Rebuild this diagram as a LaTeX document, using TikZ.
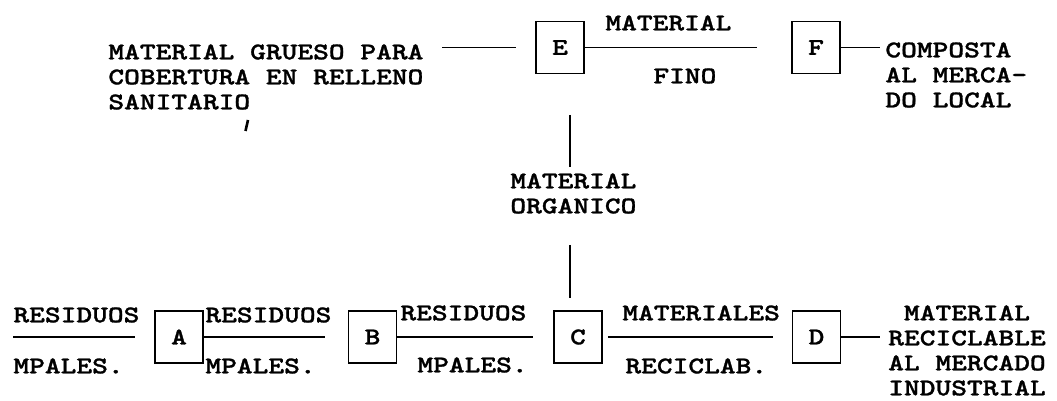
\documentclass[tikz,border=0pt]{standalone}
\usepackage{fontspec}
\newfontfamily\typewfont{lmmonolt10-bold.otf}[FakeStretch=1.25,FakeBold=1.2]
\usetikzlibrary{positioning}
\tikzset{
  box/.style={draw,line width=0.9pt,minimum width=24pt,minimum height=26pt,inner sep=0pt},
  link/.style={line width=0.9pt},
  lbl/.style={inner sep=0pt,anchor=north west,align=left},
  lblc/.style={inner sep=0pt,anchor=north,align=center},
}
\begin{document}
\begin{tikzpicture}[x=0.5pt,y=-0.5pt,font=\typewfont\fontsize{12}{12.5}\selectfont]
  \useasboundingbox (0,0) rectangle (1057,401);
  % ---------- top row: E and F ----------
  \node[box] (E) at (560,47.5) {E};
  \node[box] (F) at (816,47.5) {F};
  \node[lbl] (grueso) at (108,44) {MATERIAL GRUESO PARA\\COBERTURA EN RELLENO\\SANITARIO};
  \node[lbl] (finoTop) at (605,15) {MATERIAL};
  \node[lbl] (finoBot) at (653,68) {FINO};
  \node[lbl] (composta) at (885,42) {COMPOSTA\\AL MERCA-\\DO LOCAL};
  \coordinate (grA) at (442,47.5);
  \coordinate (grB) at (516,47.5);
  \coordinate (finoEnd) at (757,47.5);
  \coordinate (compEnd) at (880,47.5);
  \draw[link] (grA) -- (grB);
  \draw[link] (E.east) -- (finoEnd);
  \draw[link] (F.east) -- (compEnd);
  \draw[line width=1.3pt] (248,120) -- (245.5,131); % speck below SANITARIO
  % ---------- middle: organic material from C up to E ----------
  \node[lbl] (organico) at (510,173) {MATERIAL\\ORGANICO};
  \coordinate (orgA) at (570,115);
  \coordinate (orgB) at (570,167);
  \coordinate (orgC) at (570,245);
  \coordinate (orgD) at (570,298);
  \draw[link] (orgA) -- (orgB);
  \draw[link] (orgC) -- (orgD);
  % ---------- bottom row: A, B, C, D ----------
  \node[box] (A) at (179,337) {A};
  \node[box] (B) at (372.5,337) {B};
  \node[box] (C) at (578,337) {C};
  \node[box] (D) at (816.5,337) {D};
  \node[lbl] (resA) at (13,307) {RESIDUOS};
  \node[lbl] (mpA) at (13,358) {MPALES.};
  \node[lbl] (resB) at (205,307) {RESIDUOS};
  \node[lbl] (mpB) at (205,358) {MPALES.};
  \node[lbl] (resC) at (400,305) {RESIDUOS};
  \node[lbl] (mpC) at (417,357) {MPALES.};
  \node[lbl] (matD) at (622,305) {MATERIALES};
  \node[lbl] (recD) at (625,358) {RECICLAB.};
  \node[lblc] (industrial) at (967,305) {MATERIAL\\RECICLABLE\\AL MERCADO\\INDUSTRIAL};
  \coordinate (inA) at (13,337);
  \coordinate (inB) at (135,337);
  \coordinate (abEnd) at (325,337);
  \coordinate (bcEnd) at (533,337);
  \coordinate (cdEnd) at (773,337);
  \coordinate (indEnd) at (880,337);
  \draw[link] (inA) -- (inB);
  \draw[link] (A.east) -- (abEnd);
  \draw[link] (B.east) -- (bcEnd);
  \draw[link,shorten <=2.5pt] (C.east) -- (cdEnd);
  \draw[link] (D.east) -- (indEnd);
\end{tikzpicture}
\end{document}
